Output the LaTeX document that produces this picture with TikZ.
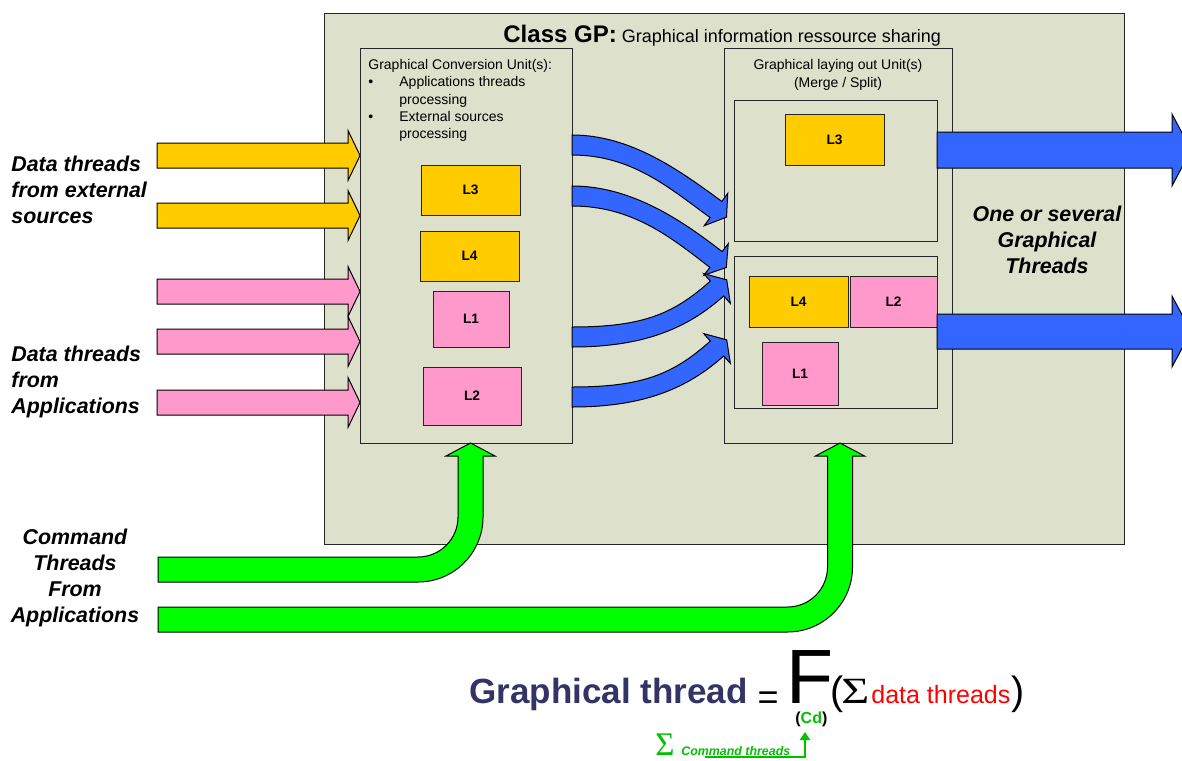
\documentclass[tikz,border=0pt]{standalone}
\usepackage{fontspec}
\setmainfont{Liberation Sans}
\newfontfamily\sigfont{Liberation Serif}
\usepackage{graphicx}
\usetikzlibrary{calc,arrows.meta}
\definecolor{gpfill}{HTML}{DDE0CB}
\definecolor{orng}{HTML}{FFCC00}
\definecolor{pnk}{HTML}{FF99CC}
\definecolor{blu}{HTML}{3366FF}
\definecolor{grn}{HTML}{00FF00}
\definecolor{grntxt}{HTML}{00C000}
\definecolor{navy}{HTML}{333366}
\newcommand\fs[2]{\fontsize{#1}{#2}\selectfont}
% input block arrow: colour, centre y
\newcommand\inarrow[2]{\path[blockarr, fill=#1] (157,#2-12.5) -- (348,#2-12.5) -- (348,#2-25) -- (360,#2) -- (348,#2+25) -- (348,#2+12.5) -- (157,#2+12.5) -- cycle;}
% output block arrow: centre y, body half, head half
\newcommand\outarrow[3]{\path[blockarr, fill=blu] (937,#1-#2) -- (1172,#1-#2) -- (1172,#1-#3) -- (1191,#1) -- (1172,#1+#3) -- (1172,#1+#2) -- (937,#1+#2) -- cycle;}
% curved blue arrow: start y, end x, end y, dir x, dir y, a, b
\newcommand\blarrow[7]{\path[blockarr, fill=blu] (572,#1-10) .. controls (572+#6,#1-10) and ($(#2,#3)-#7*(#4,#5)+10*(#5,-#4)$) .. ($(#2,#3)+10*(#5,-#4)$) -- ($(#2,#3)+20*(#5,-#4)$) -- ($(#2,#3)+13*(#4,#5)$) -- ($(#2,#3)-20*(#5,-#4)$) -- ($(#2,#3)-10*(#5,-#4)$) .. controls ($(#2,#3)-#7*(#4,#5)-10*(#5,-#4)$) and (572+#6,#1+10) .. (572,#1+10) -- cycle;}
\begin{document}
\begin{tikzpicture}[x=0.5pt,y=-0.5pt,
  frame/.style={draw=black!85, line width=0.6pt, fill=gpfill, inner sep=0pt, anchor=north west},
  lbox/.style={draw=black!85, line width=0.5pt, inner sep=0pt, font=\bfseries\fs{6.85}{8}},
  blockarr/.style={draw=black, line width=0.5pt},
  lbl/.style={font=\bfseries\itshape\fs{10.7}{13}, inner sep=0pt},
  unittxt/.style={font=\fs{7}{8.6}, inner sep=0pt, anchor=base west},
  ftxt/.style={inner sep=0pt, anchor=base west}]
\useasboundingbox (0,0) rectangle (1182,760);
% class GP frame
\node[frame, minimum width=400pt, minimum height=265.5pt] (gp) at (324,13) {};
% input arrows
\inarrow{orng}{155.5}
\inarrow{orng}{215.5}
\inarrow{pnk}{291.5}
\inarrow{pnk}{341.5}
\inarrow{pnk}{402.5}
% units
\node[frame, minimum width=106pt, minimum height=197.25pt] (gcu) at (360,48) {};
\node[frame, minimum width=114pt, minimum height=197.25pt] (glu) at (724,48) {};
\node[frame, minimum width=101.5pt, minimum height=70.5pt] (subA) at (734,100) {};
\node[frame, minimum width=101.5pt, minimum height=76pt] (subB) at (734,256) {};
% layers, conversion unit
\node[lbox, fill=orng, minimum width=49.5pt, minimum height=25pt] (cL3) at (470.5,190) {L3};
\node[lbox, fill=orng, minimum width=49.5pt, minimum height=25pt] (cL4) at (469.5,256) {L4};
\node[lbox, fill=pnk, minimum width=38pt, minimum height=28pt] (cL1) at (471,319) {L1};
\node[lbox, fill=pnk, minimum width=49pt, minimum height=29pt] (cL2) at (472,396) {L2};
% layers, laying out unit
\node[lbox, fill=orng, minimum width=49.5pt, minimum height=25.5pt] (mL3) at (834.5,139.5) {L3};
\node[lbox, fill=orng, minimum width=49.5pt, minimum height=25.5pt] (mL4) at (798.5,301.5) {L4};
\node[lbox, fill=pnk, minimum width=43.5pt, minimum height=25.5pt] (mL2) at (893.5,301.5) {L2};
\node[lbox, fill=pnk, minimum width=38pt, minimum height=31.5pt] (mL1) at (800,373.5) {L1};
% curved blue arrows
\blarrow{145}{716}{209.5}{0.809}{0.588}{60}{50}
\blarrow{196}{716}{259.5}{0.791}{0.612}{60}{50}
\blarrow{337}{717}{288.5}{0.745}{-0.668}{70}{50}
\blarrow{397}{717}{348.5}{0.745}{-0.668}{70}{50}
% output arrows
\outarrow{150}{18}{36}
\outarrow{331.5}{17.5}{35.5}
% green command arrows
\path[blockarr, fill=grn] (158,557) -- (418,557) .. controls (440.1,557) and (458,539.1) .. (458,517) -- (458,456) -- (446,456) -- (470.5,443) -- (495,456) -- (483,456) -- (483,517) .. controls (483,552.9) and (453.9,582) .. (418,582) -- (158,582) -- cycle;
\path[blockarr, fill=grn] (158,607) -- (787.5,607) .. controls (809.6,607) and (827.5,589.1) .. (827.5,567) -- (827.5,456) -- (815.5,456) -- (840,443) -- (864.5,456) -- (852.5,456) -- (852.5,567) .. controls (852.5,602.9) and (823.4,632) .. (787.5,632) -- (158,632) -- cycle;
% texts
\node[ftxt] (title) at (503,42.5) {\bfseries\fs{12}{14}Class GP:\mdseries\fs{9}{11} Graphical information ressource sharing};
\node[unittxt] (gcut) at (368,69) {Graphical Conversion Unit(s):};
\node[unittxt] (bul1) at (368,86) {•};
\node[unittxt] (it1) at (399,86) {Applications threads};
\node[unittxt] (it1b) at (399,104) {processing};
\node[unittxt] (bul2) at (368,121) {•};
\node[unittxt] (it2) at (399,121) {External sources};
\node[unittxt] (it2b) at (399,138) {processing};
\node[font=\fs{7}{8.6}, inner sep=0pt, anchor=base] (glut) at (838,69) {Graphical laying out Unit(s)};
\node[font=\fs{7}{8.6}, inner sep=0pt, anchor=base] (mst) at (838,87) {(Merge / Split)};
\node[lbl, anchor=west, align=left] (ext) at (11,190) {Data threads\\from external\\sources};
\node[lbl, anchor=west, align=left] (app) at (11,382) {Data threads\\from\\Applications};
\node[lbl, align=center] (cmdt) at (75,578) {Command\\Threads\\From\\Applications};
\node[lbl, align=center] (out) at (1047,240) {One or several\\Graphical\\Threads};
% formula
\node[ftxt, font=\bfseries\fs{17.5}{20}, text=navy] (gt) at (469,703) {Graphical thread};
\node[inner sep=0pt, anchor=base, font=\fs{18}{20}] (eq) at (768,709) {=};
\node[ftxt, font=\fs{38.5}{40}] (F) at (786,703) {F};
\node[ftxt, font=\bfseries\fs{8}{9}] (cd) at (795,723) {(\textcolor{grntxt}{Cd})};
\node[ftxt, font=\fs{19.7}{22}] (lp) at (830,704) {(};
\node[ftxt, font=\sigfont\fs{18.5}{20}] (sig) at (841,703) {\scalebox{1.3}[1]{Σ}};
\node[ftxt, font=\fs{12.5}{14}, text=red] (dt) at (871,703) {data threads};
\node[ftxt, font=\fs{19.7}{22}] (rp) at (1011,704) {)};
\node[ftxt, font=\sigfont\fs{16.5}{18}, text=grntxt] (sig2) at (655,755) {Σ};
\node[ftxt, font=\bfseries\itshape\fs{6.2}{7}, text=grntxt] (cmd) at (681,755) {Command threads};
\coordinate (ul) at (705,757);
\coordinate (cdin) at (805,732);
\draw[grntxt, line width=1pt, -{Triangle[width=5pt,length=4pt]}] (ul) -| (cdin);
\end{tikzpicture}
\end{document}
